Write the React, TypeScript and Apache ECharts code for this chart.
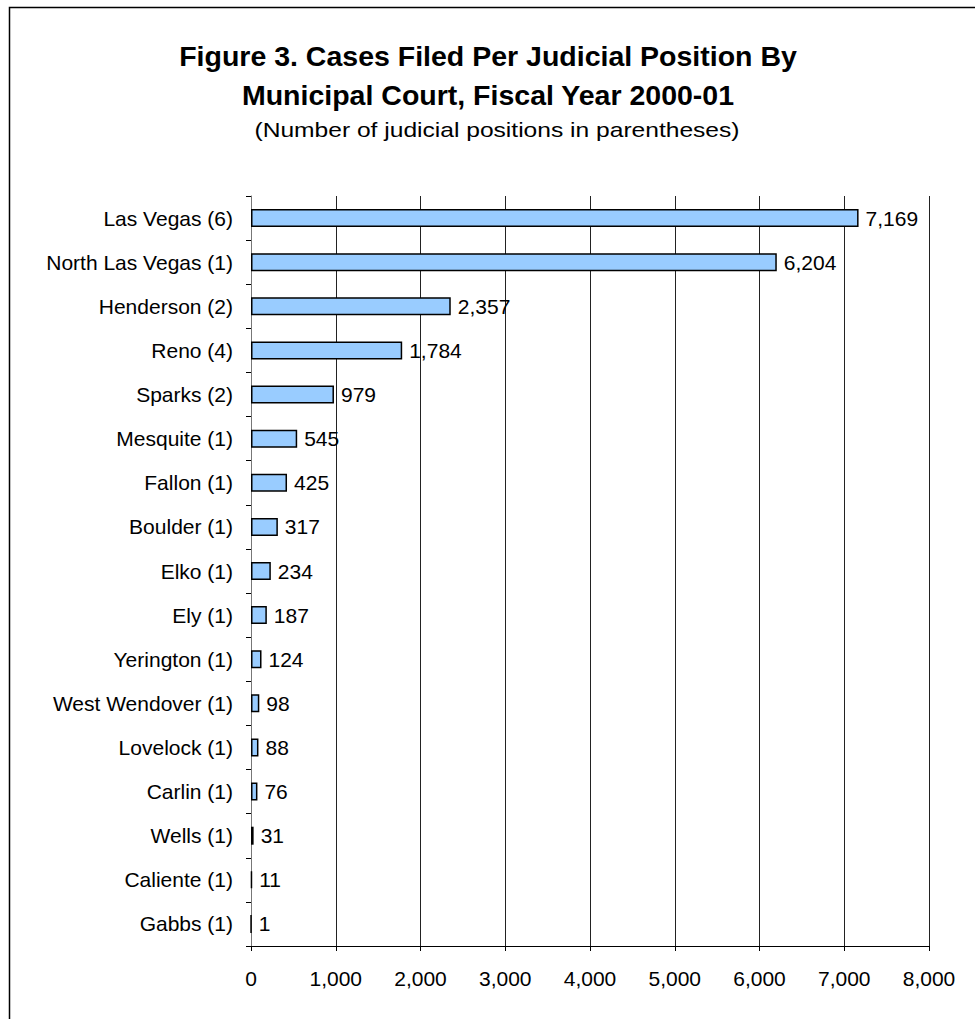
import React, { useEffect, useRef } from "react";
import * as echarts from "echarts";

const categories = [
  "Las Vegas (6)",
  "North Las Vegas (1)",
  "Henderson (2)",
  "Reno (4)",
  "Sparks (2)",
  "Mesquite (1)",
  "Fallon (1)",
  "Boulder (1)",
  "Elko (1)",
  "Ely (1)",
  "Yerington (1)",
  "West Wendover (1)",
  "Lovelock (1)",
  "Carlin (1)",
  "Wells (1)",
  "Caliente (1)",
  "Gabbs (1)",
];
const casesPerPosition = [7169, 6204, 2357, 1784, 979, 545, 425, 317, 234, 187, 124, 98, 88, 76, 31, 11, 1];
const titleLines = [
  "Figure 3. Cases Filed Per Judicial Position By",
  "Municipal Court, Fiscal Year 2000-01",
];
const subtitle = "(Number of judicial positions in parentheses)";

const fmt = (v: number) => v.toLocaleString("en-US");
const FONT = "Arial, 'Liberation Sans', sans-serif";

export default function App() {
  const ref = useRef<HTMLDivElement>(null);
  useEffect(() => {
    if (!ref.current) return;
    const chart = echarts.init(ref.current, null, { renderer: "svg" });
    chart.setOption({
      animation: false,
      backgroundColor: "#fff",
      textStyle: { fontFamily: FONT },
      grid: { left: 251, right: 46, top: 196, bottom: 73, containLabel: false },
      xAxis: {
        type: "value",
        min: 0,
        max: 8000,
        interval: 1000,
        axisLine: { show: true, lineStyle: { color: "#000", width: 1 } },
        axisTick: { show: true, length: 5, lineStyle: { color: "#000" } },
        axisLabel: {
          color: "#000",
          fontSize: 21,
          fontFamily: FONT,
          margin: 22,
          formatter: (v: number) => fmt(v),
        },
        splitLine: { show: true, lineStyle: { color: "#222", width: 1 } },
      },
      yAxis: {
        type: "category",
        data: categories,
        inverse: true,
        axisLine: { show: true, lineStyle: { color: "#777", width: 1 } },
        axisTick: { show: true, length: 5, lineStyle: { color: "#000" } },
        axisLabel: { color: "#000", fontSize: 21, fontFamily: FONT, margin: 18 },
        splitLine: { show: false },
      },
      series: [
        {
          type: "bar",
          data: casesPerPosition,
          barWidth: 18,
          itemStyle: { color: "#99CCFF", borderColor: "#000", borderWidth: 1.5 },
          label: {
            show: true,
            position: "right",
            distance: 7,
            color: "#000",
            fontSize: 21,
            fontFamily: FONT,
            formatter: (p: any) => fmt(p.value),
          },
        },
      ],
      graphic: [
        {
          type: "rect",
          shape: { x: 9.5, y: 7.5, width: 1100, height: 1100 },
          style: { fill: "none", stroke: "#000", lineWidth: 1.5 },
          silent: true,
        },
        {
          type: "text",
          x: 488,
          y: 56,
          style: {
            text: titleLines[0],
            font: `bold 28.5px ${FONT}`,
            fill: "#000",
            textAlign: "center",
            textVerticalAlign: "middle",
          },
        },
        {
          type: "text",
          x: 488,
          y: 95,
          style: {
            text: titleLines[1],
            font: `bold 28.5px ${FONT}`,
            fill: "#000",
            textAlign: "center",
            textVerticalAlign: "middle",
          },
        },
        {
          type: "text",
          x: 497,
          y: 130.5,
          scaleX: 1.2,
          style: {
            text: subtitle,
            font: `20.5px ${FONT}`,
            fill: "#000",
            textAlign: "center",
            textVerticalAlign: "middle",
          },
        },
      ],
    });
    return () => chart.dispose();
  }, []);
  return (
    <div
      ref={ref}
      style={{ position: "absolute", left: 0, top: 0, width: 975, height: 1019 }}
    />
  );
}
